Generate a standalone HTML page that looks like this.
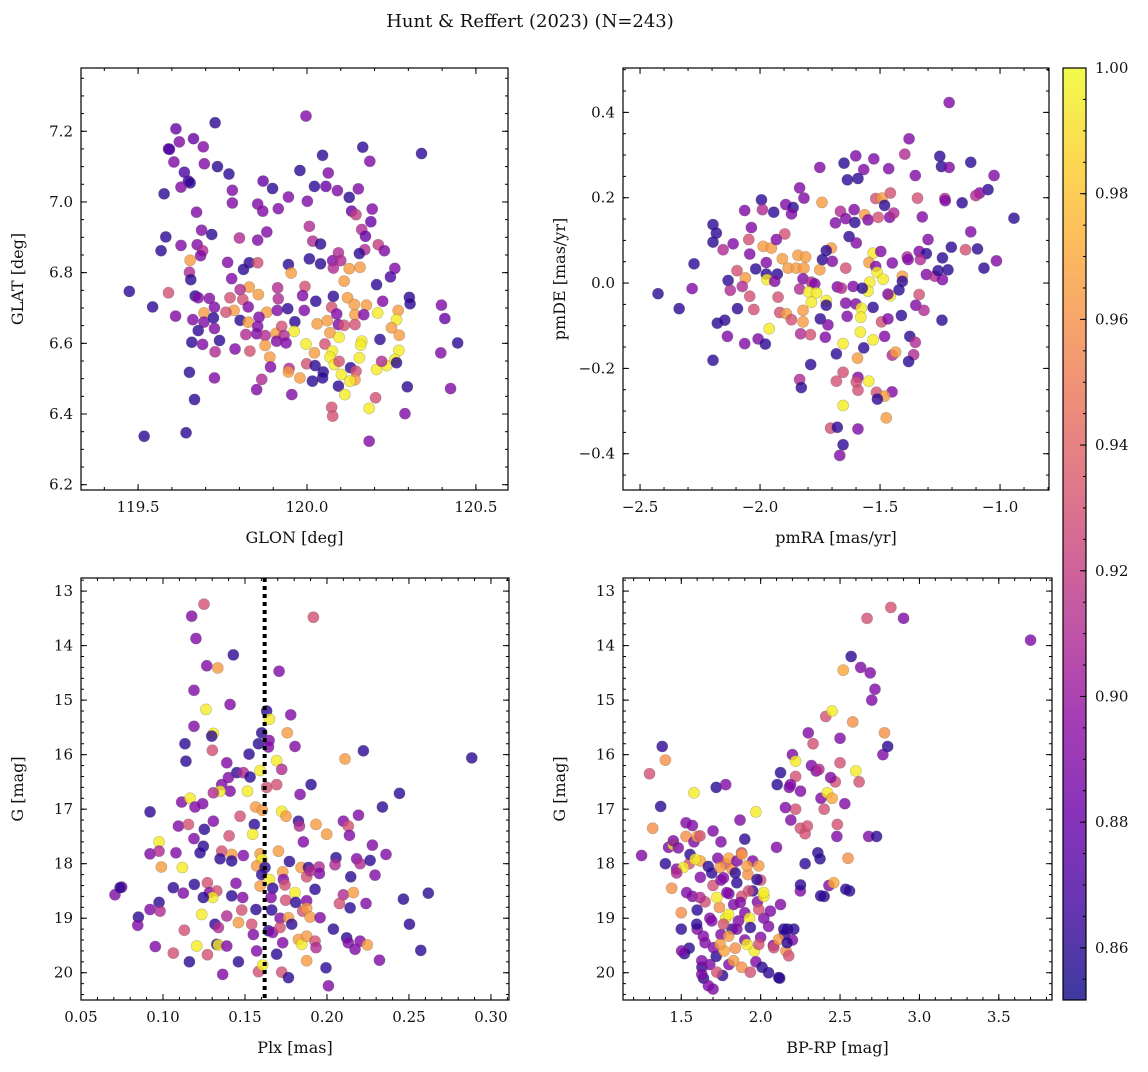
<!DOCTYPE html>
<html><head><meta charset="utf-8"><style>
body{margin:0;background:#fff}
svg text{font-family:"DejaVu Serif","Liberation Serif",serif;fill:#111}
</style></head><body>
<svg id="fig" width="1148" height="1067" viewBox="0 0 1148 1067" xmlns="http://www.w3.org/2000/svg">
<text x="530" y="27" text-anchor="middle" font-size="18">Hunt &amp; Reffert (2023) (N=243)</text>
</svg>
<script>
// Panel 1: GLON, GLAT, prob
const p1 = [[119.997,7.243,.89],[119.728,7.224,.86],[119.612,7.207,.88],[119.664,7.179,.88],[119.622,7.170,.89],[119.693,7.156,.89],[119.590,7.150,.88],[119.593,7.149,.87],[120.165,7.155,.86],[120.046,7.132,.86],[120.339,7.137,.86],[120.186,7.115,.89],[119.606,7.113,.89],[119.696,7.108,.89],[119.735,7.100,.86],[119.637,7.084,.87],[119.769,7.079,.86],[119.979,7.089,.86],[120.063,7.082,.89],[119.649,7.059,.87],[119.654,7.054,.86],[119.627,7.042,.89],[119.870,7.059,.88],[119.898,7.038,.86],[120.022,7.044,.86],[120.056,7.044,.88],[120.090,7.032,.89],[120.152,7.037,.89],[119.577,7.023,.86],[119.779,7.033,.89],[119.945,7.014,.89],[120.001,7.002,.89],[120.125,7.013,.86],[119.779,6.997,.89],[119.854,6.994,.89],[119.869,6.974,.89],[119.915,6.981,.89],[119.673,6.971,.89],[120.132,6.974,.88],[120.145,6.964,.92],[120.193,6.980,.89],[120.189,6.944,.88],[120.007,6.931,.91],[119.688,6.920,.89],[119.718,6.908,.86],[119.582,6.901,.86],[119.800,6.898,.91],[119.854,6.892,.89],[119.881,6.915,.89],[120.162,6.922,.91],[120.173,6.903,.88],[120.017,6.889,.91],[120.040,6.881,.86],[119.627,6.877,.89],[119.675,6.879,.89],[119.691,6.862,.91],[119.685,6.848,.89],[119.568,6.862,.86],[120.211,6.879,.92],[120.229,6.862,.89],[120.171,6.865,.91],[120.155,6.854,.86],[120.007,6.839,.86],[119.654,6.835,.965],[119.765,6.829,.89],[119.829,6.828,.86],[119.854,6.828,.93],[119.945,6.823,.86],[120.040,6.825,.86],[120.076,6.834,.89],[120.093,6.856,.91],[120.100,6.834,.91],[120.078,6.813,.91],[120.125,6.811,.965],[120.157,6.815,.965],[120.110,6.776,.965],[119.953,6.799,.965],[119.812,6.809,.86],[120.260,6.812,.89],[120.247,6.788,.87],[119.652,6.801,.91],[119.656,6.780,.86],[119.777,6.783,.89],[119.474,6.747,.86],[119.590,6.743,.93],[119.829,6.759,.965],[119.802,6.752,.91],[119.856,6.738,.965],[119.913,6.757,.91],[119.994,6.761,.93],[119.987,6.735,.89],[119.669,6.734,.86],[119.678,6.729,.89],[119.711,6.727,.89],[119.772,6.729,.93],[119.810,6.724,.93],[119.915,6.726,.91],[120.026,6.719,.86],[120.078,6.733,.86],[120.120,6.729,.965],[120.140,6.710,.965],[120.176,6.708,.965],[120.209,6.686,.995],[120.224,6.719,.89],[120.206,6.766,.86],[120.303,6.730,.86],[120.305,6.712,.86],[120.398,6.708,.89],[120.408,6.670,.88],[119.543,6.703,.86],[119.726,6.702,.89],[119.784,6.693,.965],[119.695,6.686,.965],[119.760,6.688,.93],[119.826,6.703,.89],[119.881,6.688,.965],[119.912,6.693,.89],[119.943,6.698,.86],[119.992,6.693,.89],[120.073,6.702,.93],[120.088,6.683,.89],[120.142,6.681,.965],[120.168,6.681,.89],[120.270,6.693,.965],[120.265,6.667,.995],[119.611,6.677,.89],[119.662,6.667,.89],[119.695,6.660,.89],[119.723,6.672,.86],[119.802,6.665,.86],[119.826,6.660,.965],[119.858,6.674,.89],[119.854,6.648,.89],[119.964,6.661,.86],[120.030,6.655,.965],[120.060,6.664,.965],[120.093,6.653,.89],[120.110,6.651,.93],[120.142,6.653,.93],[120.250,6.644,.965],[119.678,6.636,.86],[119.726,6.642,.89],[119.819,6.625,.91],[119.851,6.627,.89],[119.876,6.622,.91],[119.908,6.628,.965],[119.925,6.648,.93],[119.962,6.634,.995],[119.932,6.622,.91],[120.068,6.630,.965],[120.095,6.617,.995],[120.273,6.623,.965],[119.659,6.603,.86],[119.691,6.597,.89],[119.741,6.608,.86],[119.787,6.584,.89],[119.831,6.578,.93],[119.876,6.594,.965],[119.910,6.606,.89],[119.938,6.601,.89],[119.997,6.598,.995],[120.022,6.573,.965],[120.053,6.598,.93],[120.075,6.578,.995],[120.162,6.606,.995],[120.159,6.595,.995],[120.216,6.611,.86],[120.272,6.580,.995],[120.446,6.601,.86],[120.396,6.573,.89],[119.728,6.576,.91],[119.890,6.561,.965],[119.892,6.533,.89],[119.947,6.529,.91],[119.945,6.519,.965],[119.979,6.502,.965],[119.999,6.542,.93],[120.024,6.537,.86],[120.048,6.519,.86],[120.068,6.561,.995],[120.081,6.540,.995],[120.095,6.549,.93],[120.102,6.512,.995],[120.129,6.531,.86],[120.145,6.521,.93],[120.155,6.559,.995],[120.142,6.497,.965],[120.127,6.493,.995],[120.206,6.526,.995],[120.236,6.537,.995],[120.260,6.554,.995],[120.265,6.545,.86],[120.221,6.549,.91],[120.016,6.493,.86],[120.046,6.502,.86],[120.093,6.479,.86],[119.652,6.518,.86],[119.726,6.502,.89],[119.851,6.469,.89],[119.866,6.498,.91],[119.955,6.455,.89],[120.112,6.455,.995],[120.203,6.446,.93],[120.297,6.477,.86],[120.425,6.472,.89],[119.667,6.441,.86],[120.073,6.419,.93],[120.076,6.394,.93],[120.184,6.416,.995],[120.290,6.401,.89],[119.518,6.337,.86],[119.642,6.347,.86],[120.184,6.323,.89]];
// Panel 2: pmRA, pmDE, prob
const p2 = [[-1.212,0.423,.89],[-1.379,0.338,.89],[-1.397,0.302,.91],[-1.601,0.298,.89],[-1.526,0.291,.89],[-1.650,0.281,.86],[-1.251,0.297,.86],[-1.244,0.273,.86],[-1.212,0.271,.89],[-1.122,0.283,.86],[-1.751,0.271,.89],[-1.568,0.266,.89],[-1.464,0.268,.89],[-1.636,0.242,.86],[-1.592,0.245,.86],[-1.353,0.252,.89],[-1.025,0.252,.89],[-1.050,0.219,.86],[-1.085,0.211,.89],[-1.101,0.205,.91],[-1.835,0.223,.89],[-1.817,0.199,.89],[-1.994,0.195,.86],[-1.742,0.189,.965],[-1.518,0.198,.93],[-1.492,0.199,.965],[-1.457,0.211,.93],[-1.344,0.199,.93],[-1.230,0.198,.91],[-1.228,0.193,.89],[-1.158,0.188,.86],[-2.064,0.170,.89],[-1.990,0.172,.91],[-1.943,0.166,.86],[-1.893,0.184,.89],[-1.862,0.177,.86],[-1.869,0.162,.89],[-1.665,0.168,.91],[-1.608,0.172,.89],[-1.643,0.151,.89],[-1.564,0.160,.965],[-1.550,0.148,.89],[-1.508,0.154,.93],[-1.481,0.182,.86],[-1.460,0.154,.89],[-1.443,0.164,.91],[-1.324,0.155,.89],[-1.686,0.141,.89],[-1.605,0.142,.86],[-0.942,0.152,.86],[-2.196,0.137,.86],[-2.182,0.117,.86],[-2.036,0.130,.89],[-1.897,0.115,.93],[-1.122,0.120,.89],[-1.629,0.109,.86],[-1.599,0.094,.89],[-1.300,0.102,.89],[-2.196,0.096,.86],[-2.154,0.078,.91],[-2.112,0.092,.89],[-2.047,0.102,.93],[-1.987,0.086,.965],[-1.953,0.082,.965],[-1.932,0.102,.89],[-1.703,0.082,.965],[-1.724,0.076,.86],[-1.529,0.070,.995],[-1.497,0.074,.89],[-1.337,0.074,.89],[-1.307,0.069,.86],[-1.203,0.084,.86],[-1.144,0.078,.93],[-1.094,0.080,.86],[-2.275,0.045,.86],[-2.043,0.068,.89],[-1.974,0.048,.89],[-1.907,0.057,.965],[-1.842,0.065,.965],[-1.810,0.061,.965],[-1.883,0.035,.965],[-1.849,0.035,.965],[-1.817,0.035,.965],[-1.751,0.031,.965],[-1.740,0.055,.86],[-1.699,0.051,.89],[-1.643,0.035,.93],[-1.546,0.048,.965],[-1.518,0.039,.89],[-1.449,0.047,.89],[-1.387,0.061,.91],[-1.383,0.055,.89],[-1.332,0.055,.91],[-1.240,0.059,.86],[-1.015,0.052,.89],[-1.067,0.035,.86],[-2.096,0.029,.93],[-2.018,0.033,.86],[-1.974,0.021,.86],[-1.928,0.021,.86],[-2.061,0.012,.965],[-1.971,0.008,.995],[-1.939,0.004,.89],[-2.133,0.006,.86],[-1.821,0.010,.89],[-1.786,0.002,.91],[-1.772,-0.002,.89],[-1.512,0.025,.995],[-1.487,0.009,.995],[-1.543,0.002,.995],[-1.407,0.016,.965],[-1.407,0.004,.86],[-1.307,0.020,.89],[-1.272,0.016,.91],[-1.240,0.008,.89],[-1.217,0.031,.86],[-1.258,0.029,.86],[-2.124,-0.017,.91],[-2.074,-0.008,.91],[-2.043,-0.031,.93],[-1.835,-0.014,.91],[-1.797,-0.021,.995],[-1.765,-0.023,.995],[-1.786,-0.045,.995],[-1.724,-0.041,.995],[-1.678,-0.009,.89],[-1.661,-0.012,.91],[-1.612,-0.008,.89],[-1.550,-0.019,.995],[-1.574,-0.012,.86],[-1.457,-0.030,.995],[-1.467,-0.026,.89],[-1.421,-0.016,.86],[-1.337,-0.027,.93],[-1.925,-0.033,.93],[-2.283,-0.013,.89],[-2.425,-0.025,.86],[-2.337,-0.060,.86],[-2.094,-0.060,.86],[-2.026,-0.062,.93],[-1.918,-0.069,.93],[-1.890,-0.072,.965],[-1.869,-0.086,.93],[-1.821,-0.064,.965],[-1.821,-0.091,.965],[-1.749,-0.084,.86],[-1.724,-0.052,.86],[-1.717,-0.098,.89],[-1.643,-0.047,.89],[-1.637,-0.078,.89],[-1.601,-0.049,.89],[-1.578,-0.059,.995],[-1.580,-0.080,.995],[-1.529,-0.057,.86],[-1.494,-0.091,.93],[-1.467,-0.084,.89],[-1.411,-0.076,.86],[-1.351,-0.052,.89],[-1.317,-0.064,.91],[-1.242,-0.087,.86],[-2.178,-0.094,.86],[-2.147,-0.087,.86],[-1.962,-0.107,.995],[-2.136,-0.125,.89],[-2.064,-0.142,.89],[-2.008,-0.131,.89],[-1.978,-0.143,.86],[-1.831,-0.119,.91],[-1.790,-0.121,.93],[-1.728,-0.127,.89],[-1.582,-0.115,.995],[-1.529,-0.133,.995],[-1.568,-0.152,.86],[-1.481,-0.125,.89],[-1.376,-0.125,.86],[-1.353,-0.139,.91],[-1.654,-0.142,.995],[-1.682,-0.166,.86],[-1.594,-0.176,.965],[-1.449,-0.169,.91],[-1.435,-0.162,.965],[-1.360,-0.168,.91],[-1.381,-0.184,.86],[-2.196,-0.181,.86],[-1.789,-0.191,.86],[-1.654,-0.209,.93],[-1.682,-0.230,.93],[-1.835,-0.226,.91],[-1.828,-0.245,.86],[-1.592,-0.221,.89],[-1.599,-0.232,.93],[-1.547,-0.230,.995],[-1.592,-0.251,.93],[-1.515,-0.256,.93],[-1.450,-0.255,.89],[-1.481,-0.265,.965],[-1.511,-0.272,.86],[-1.654,-0.287,.995],[-1.474,-0.316,.965],[-1.706,-0.340,.93],[-1.678,-0.338,.86],[-1.592,-0.342,.89],[-1.654,-0.379,.86],[-1.668,-0.404,.89]];
// Panel 3: Plx, G, prob
const p3 = [[.125,13.24,.93],[.1175,13.46,.89],[.1917,13.48,.93],[.1201,13.87,.89],[.1429,14.17,.86],[.1267,14.37,.89],[.1334,14.41,.965],[.1708,14.47,.89],[.1189,14.82,.89],[.1409,15.08,.89],[.1262,15.17,.995],[.1632,15.20,.86],[.1779,15.27,.89],[.1649,15.35,.995],[.1189,15.48,.89],[.1307,15.61,.995],[.1297,15.66,.86],[.1602,15.60,.86],[.1758,15.60,.965],[.1647,15.74,.89],[.1134,15.80,.86],[.1582,15.80,.86],[.1805,15.85,.89],[.1301,15.92,.93],[.1525,15.99,.86],[.1643,15.86,.89],[.2222,15.93,.86],[.211,16.08,.965],[.2883,16.06,.86],[.114,16.12,.86],[.1693,16.11,.995],[.1389,16.15,.89],[.1724,16.27,.91],[.1592,16.29,.995],[.145,16.33,.86],[.149,16.33,.91],[.1531,16.41,.86],[.1399,16.42,.89],[.1358,16.55,.89],[.1409,16.67,.89],[.1348,16.67,.995],[.1515,16.67,.995],[.1307,16.70,.91],[.1632,16.60,.93],[.1693,16.55,.93],[.1903,16.55,.86],[.1836,16.73,.89],[.2442,16.71,.86],[.1114,16.87,.89],[.1165,16.80,.995],[.1242,16.90,.89],[.1195,16.96,.89],[.0921,17.05,.86],[.1565,16.96,.965],[.1606,17.02,.965],[.1724,17.04,.995],[.175,17.13,.965],[.2338,16.96,.86],[.2192,17.11,.89],[.147,17.13,.93],[.1307,17.22,.89],[.1094,17.31,.89],[.1155,17.28,.93],[.1557,17.28,.86],[.1826,17.22,.86],[.1832,17.31,.91],[.1933,17.28,.965],[.21,17.22,.89],[.213,17.31,.93],[.1252,17.37,.86],[.1403,17.49,.93],[.1547,17.46,.995],[.1189,17.54,.89],[.1998,17.46,.965],[.2137,17.48,.89],[.1856,17.60,.89],[.0976,17.60,.995],[.1246,17.68,.86],[.1226,17.80,.86],[.0921,17.82,.89],[.0976,17.77,.91],[.1079,17.80,.89],[.1358,17.77,.93],[.1419,17.83,.965],[.149,17.85,.89],[.1348,17.91,.86],[.1419,17.95,.86],[.1704,17.77,.965],[.1592,17.82,.965],[.1602,17.92,.995],[.1771,17.96,.86],[.2055,17.89,.86],[.2049,18.02,.91],[.2181,17.91,.89],[.2202,18.00,.91],[.2263,17.94,.86],[.2277,17.66,.89],[.236,17.83,.89],[.099,18.06,.965],[.1118,18.07,.995],[.1571,18.04,.965],[.1622,18.07,.86],[.1842,18.07,.965],[.1887,18.07,.86],[.1952,18.06,.91],[.1954,18.18,.89],[.173,18.15,.965],[.1602,18.20,.86],[.1649,18.29,.995],[.1734,18.29,.89],[.1744,18.39,.93],[.1876,18.24,.93],[.1897,18.13,.91],[.2145,18.24,.86],[.2293,18.21,.89],[.0748,18.43,.89],[.0707,18.57,.89],[.0738,18.44,.86],[.1063,18.44,.86],[.1124,18.54,.89],[.1191,18.38,.86],[.1271,18.35,.93],[.1283,18.53,.89],[.1328,18.50,.93],[.1303,18.62,.995],[.1246,18.62,.86],[.1419,18.59,.86],[.1445,18.36,.89],[.1486,18.62,.89],[.1592,18.41,.965],[.1669,18.45,.86],[.1659,18.62,.89],[.1748,18.67,.93],[.1805,18.53,.995],[.1809,18.71,.86],[.1876,18.68,.89],[.1927,18.47,.86],[.21,18.57,.91],[.2076,18.73,.93],[.2161,18.53,.965],[.2141,18.81,.86],[.2238,18.73,.89],[.2466,18.65,.86],[.2618,18.54,.86],[.0976,18.71,.86],[.0921,18.84,.89],[.0982,18.87,.91],[.085,18.98,.86],[.0846,19.13,.89],[.1236,18.93,.995],[.1389,18.96,.91],[.148,18.85,.93],[.1567,18.84,.86],[.1663,18.85,.86],[.1714,19.00,.89],[.1765,18.99,.965],[.1852,18.87,.93],[.1876,18.82,.965],[.1897,18.98,.965],[.1958,18.99,.89],[.1785,19.11,.86],[.113,19.22,.93],[.1317,19.11,.86],[.1338,19.17,.91],[.146,19.08,.965],[.1541,19.11,.93],[.1551,19.30,.89],[.1643,19.23,.86],[.1669,19.26,.89],[.1714,19.17,.93],[.173,19.45,.89],[.1826,19.39,.965],[.1846,19.48,.995],[.1876,19.33,.965],[.1927,19.42,.93],[.1933,19.54,.91],[.2039,19.20,.86],[.212,19.36,.86],[.213,19.45,.89],[.2171,19.57,.89],[.2202,19.42,.89],[.2246,19.49,.965],[.232,19.77,.89],[.2503,19.11,.86],[.2572,19.59,.86],[.0953,19.52,.89],[.1063,19.64,.93],[.1161,19.80,.86],[.1206,19.51,.995],[.1271,19.67,.93],[.1328,19.48,.86],[.1338,19.49,.995],[.1389,19.51,.89],[.146,19.80,.86],[.1571,19.60,.89],[.1582,19.98,.93],[.1608,19.86,.995],[.1693,19.66,.86],[.1724,19.99,.93],[.1765,20.09,.86],[.1876,19.78,.965],[.1994,19.91,.86],[.2009,20.24,.89],[.1364,20.03,.89]];
// Panel 4: BP-RP, G, prob
const p4 = [[1.25,17.85,.89],[1.3,16.35,.93],[1.32,17.35,.96],[1.37,16.95,.86],[1.38,15.85,.86],[1.4,16.1,.96],[1.4,18.0,.86],[1.42,17.7,.89],[1.44,18.45,.96],[1.45,17.65,.995],[1.47,18.1,.89],[1.5,18.9,.96],[1.5,19.2,.86],[1.52,19.65,.86],[1.53,17.25,.89],[1.53,17.5,.96],[1.55,18.0,.93],[1.55,19.55,.86],[1.57,17.3,.89],[1.57,18.6,.89],[1.58,16.7,.995],[1.58,17.6,.89],[1.6,17.5,.97],[1.6,18.85,.86],[1.6,19.2,.89],[1.62,17.95,.97],[1.62,18.25,.89],[1.63,19.9,.86],[1.64,20.1,.86],[1.65,18.7,.93],[1.65,19.45,.89],[1.67,18.05,.86],[1.68,19.0,.89],[1.68,19.85,.89],[1.7,17.4,.89],[1.7,18.4,.93],[1.7,20.3,.89],[1.72,16.6,.86],[1.72,19.7,.86],[1.73,17.9,.89],[1.74,18.8,.96],[1.75,17.6,.89],[1.75,18.3,.89],[1.75,19.3,.89],[1.76,20.05,.86],[1.77,19.6,.97],[1.78,18.0,.93],[1.78,19.0,.995],[1.78,16.55,.89],[1.8,18.55,.89],[1.8,17.9,.97],[1.8,19.85,.89],[1.82,19.2,.86],[1.82,18.1,.96],[1.83,18.75,.89],[1.84,19.55,.96],[1.85,17.95,.89],[1.85,18.35,.86],[1.86,19.05,.89],[1.87,17.2,.89],[1.88,19.9,.96],[1.88,18.6,.93],[1.9,17.55,.86],[1.9,19.4,.89],[1.9,18.9,.89],[1.92,18.2,.96],[1.93,19.0,.995],[1.95,18.5,.86],[1.96,19.6,.995],[1.97,17.05,.995],[1.97,19.8,.89],[1.98,18.7,.89],[2.0,19.35,.89],[2.0,18.3,.93],[2.02,18.6,.995],[2.02,19.0,.89],[2.05,20.0,.86],[2.05,19.15,.89],[2.08,19.5,.89],[2.1,17.7,.89],[2.12,20.1,.86],[2.15,19.3,.86],[2.16,19.6,.96],[2.17,19.2,.86],[2.18,16.6,.89],[2.19,17.2,.89],[2.2,19.4,.89],[2.2,16.0,.89],[2.22,16.4,.93],[2.22,17.0,.93],[2.25,17.35,.93],[2.25,18.5,.89],[2.28,18.0,.86],[2.28,17.45,.93],[2.3,15.6,.89],[2.32,16.2,.89],[2.33,15.8,.93],[2.35,16.3,.89],[2.36,17.8,.86],[2.38,16.8,.89],[2.4,17.0,.93],[2.4,18.6,.86],[2.41,15.3,.93],[2.42,16.7,.995],[2.43,18.4,.89],[2.45,15.2,.995],[2.45,16.8,.97],[2.46,18.35,.97],[2.47,16.5,.93],[2.48,17.5,.89],[2.5,16.15,.93],[2.5,15.7,.89],[2.52,14.45,.97],[2.53,16.9,.89],[2.55,17.9,.96],[2.56,18.5,.86],[2.57,14.2,.86],[2.58,15.4,.96],[2.6,16.3,.995],[2.62,16.5,.93],[2.63,14.4,.89],[2.67,13.5,.93],[2.68,17.5,.89],[2.69,14.5,.89],[2.7,15.0,.89],[2.72,14.8,.89],[2.73,17.5,.86],[2.77,16.0,.89],[2.78,15.6,.96],[2.8,15.85,.86],[2.82,13.3,.93],[2.9,13.5,.89],[3.7,13.9,.89],[1.95,17.95,.89],[1.88,17.8,.93],
[1.450,17.58,.89],[1.481,17.71,.89],[1.555,17.83,.86],[1.618,17.49,.93],[1.513,18.07,.995],[1.471,18.17,.91],[1.587,17.92,.995],[1.692,18.17,.86],[1.745,18.07,.965],[1.766,18.26,.89],[1.840,18.17,.86],[1.882,17.83,.965],[1.914,18.04,.965],[1.988,18.04,.965],[1.977,18.29,.86],[1.534,18.53,.89],[1.618,18.62,.91],[1.724,18.62,.995],[1.787,18.53,.89],[1.872,18.71,.89],[1.924,18.50,.93],[2.019,18.53,.995],[2.061,18.87,.89],[2.125,18.75,.89],[1.597,19.11,.86],[1.692,19.05,.89],[1.766,19.11,.93],[1.798,18.93,.995],[1.850,19.20,.89],[1.935,19.17,.86],[1.988,18.84,.93],[1.639,19.33,.89],[1.703,19.54,.89],[1.745,19.48,.965],[1.798,19.33,.965],[1.914,19.48,.995],[1.988,19.48,.93],[2.083,19.54,.93],[2.146,19.20,.86],[2.209,19.20,.86],[2.114,19.39,.965],[2.177,19.69,.93],[1.629,19.78,.89],[1.724,19.99,.93],[1.829,19.78,.965],[1.935,19.99,.93],[2.009,19.90,.86],[2.114,20.09,.86],[1.671,20.24,.89],[1.629,20.03,.89],[1.502,19.60,.89],[2.167,19.45,.86],
[2.125,16.33,.86],[2.104,16.55,.86],[2.188,16.55,.89],[2.220,16.12,.995],[2.367,16.27,.91],[2.441,16.42,.89],[2.251,16.67,.89],[2.156,16.97,.89],[2.294,17.31,.93],[2.483,17.28,.93],[2.374,17.91,.86],[2.251,18.39,.86],[2.378,18.59,.86],[2.536,18.47,.86]];
const plxLine = 0.162;
const cbTicks = [0.86,0.88,0.90,0.92,0.94,0.96,0.98,1.00];

const NS='http://www.w3.org/2000/svg';
const svg=document.getElementById('fig');
function mk(tag,attrs,parent){const e=document.createElementNS(NS,tag);for(const k in attrs)e.setAttribute(k,attrs[k]);(parent||svg).appendChild(e);return e;}
const stops=[[0,[13,8,135]],[.1,[65,4,157]],[.2,[106,0,168]],[.3,[143,13,164]],[.4,[177,42,144]],[.5,[204,71,120]],[.6,[225,100,98]],[.7,[242,132,75]],[.8,[252,166,54]],[.9,[252,206,37]],[1,[240,249,33]]];
const CMIN=0.8517,CMAX=1.0;
function plasma(t){t=Math.max(0,Math.min(1,t));for(let i=1;i<stops.length;i++){if(t<=stops[i][0]){const a=stops[i-1],b=stops[i],f=(t-a[0])/(b[0]-a[0]);return 'rgb('+a[1].map((v,j)=>Math.round(v+(b[1][j]-v)*f)).join(',')+')';}}return 'rgb(240,249,33)';}
function col(p){return plasma((p-CMIN)/(CMAX-CMIN));}

function panel(cfg){
  const {name,L,T,R,B,x0,x1,y0,y1,xMaj,yMaj,xMin,yMin,xfmt,yfmt,xlabel,ylabel,data}=cfg;
  const g=mk('g',{});
  
  
  const sx=v=>L+(v-x0)/(x1-x0)*(R-L), sy=v=>T+(v-y0)/(y1-y0)*(B-T);
  const eps=1e-9;
  function ticks(step){const a=[];const lo=Math.min(x0,x1),hi=Math.max(x0,x1);for(let v=Math.ceil(lo/step-eps)*step;v<=hi+eps;v+=step)a.push(v);return a;}
  function yticks(step){const a=[];const lo=Math.min(y0,y1),hi=Math.max(y0,y1);for(let v=Math.ceil(lo/step-eps)*step;v<=hi+eps;v+=step)a.push(v);return a;}
  const tk=mk('g',{stroke:'#000','stroke-width':1},g);
  
  
  ticks(xMin).forEach(v=>{const x=sx(v);mk('line',{x1:x,x2:x,y1:B,y2:B-3},tk);mk('line',{x1:x,x2:x,y1:T,y2:T+3},tk);});
  yticks(yMin).forEach(v=>{const y=sy(v);mk('line',{x1:L,x2:L+3,y1:y,y2:y},tk);mk('line',{x1:R,x2:R-3,y1:y,y2:y},tk);});
  xMaj.forEach(v=>{const x=sx(v);mk('line',{x1:x,x2:x,y1:B,y2:B-6},tk);mk('line',{x1:x,x2:x,y1:T,y2:T+6},tk);
    const t=mk('text',{x:x,y:B+22,'text-anchor':'middle','font-size':15},g);t.textContent=xfmt(v);
    
    });
  yMaj.forEach(v=>{const y=sy(v);mk('line',{x1:L,x2:L+6,y1:y,y2:y},tk);mk('line',{x1:R,x2:R-6,y1:y,y2:y},tk);
    const t=mk('text',{x:L-8,y:y+5,'text-anchor':'end','font-size':15},g);t.textContent=yfmt(v);
    
    });
  const pts=mk('g',{},g);
  
  
  data.forEach(d=>{const c=mk('circle',{cx:sx(d[0]),cy:sy(d[1]),r:5.6,fill:col(d[2]),'fill-opacity':0.8,stroke:'#555','stroke-opacity':0.35,'stroke-width':0.6},pts);
    
    });
  if(cfg.vline!==undefined){const x=sx(cfg.vline);const l=mk('line',{x1:x,x2:x,y1:T,y2:B,stroke:'#000','stroke-width':4,'stroke-dasharray':'4,4'},g);
    
    }
  const fr=mk('rect',{x:L,y:T,width:R-L,height:B-T,fill:'none',stroke:'#000','stroke-width':1.2},g);
  
  
  const xl=mk('text',{x:(L+R)/2,y:B+53,'text-anchor':'middle','font-size':16},g);xl.textContent=xlabel;
  
  
  const yx=L-58,yy=(T+B)/2;
  const yl=mk('text',{x:yx,y:yy,'text-anchor':'middle','font-size':16,transform:`rotate(-90 ${yx} ${yy})`},g);yl.textContent=ylabel;
  
  
}
const f1=v=>v.toFixed(1), f2=v=>v.toFixed(2), f0=v=>v.toFixed(0), fm=v=>(v<-1e-9?'\u2212':'')+Math.abs(v).toFixed(1);
panel({name:'glon-glat-panel',L:81,T:68,R:508,B:490,x0:119.331,x1:120.595,y0:7.379,y1:6.185,xMaj:[119.5,120,120.5],yMaj:[6.2,6.4,6.6,6.8,7.0,7.2],xMin:0.1,yMin:0.05,xfmt:f1,yfmt:f1,xlabel:'GLON [deg]',ylabel:'GLAT [deg]',data:p1});
panel({name:'proper-motion-panel',L:623,T:68,R:1049,B:490,x0:-2.571,x1:-0.796,y0:0.504,y1:-0.485,xMaj:[-2.5,-2,-1.5,-1],yMaj:[-0.4,-0.2,0,0.2,0.4],xMin:0.1,yMin:0.05,xfmt:fm,yfmt:fm,xlabel:'pmRA [mas/yr]',ylabel:'pmDE [mas/yr]',data:p2});
panel({name:'plx-g-panel',L:81,T:578,R:509,B:1000,x0:0.05,x1:0.311,y0:12.76,y1:20.5,xMaj:[0.05,0.1,0.15,0.2,0.25,0.3],yMaj:[13,14,15,16,17,18,19,20],xMin:0.01,yMin:0.2,xfmt:f2,yfmt:f0,xlabel:'Plx [mas]',ylabel:'G [mag]',data:p3,vline:plxLine});
panel({name:'cmd-panel',L:623,T:578,R:1052,B:1000,x0:1.133,x1:3.835,y0:12.76,y1:20.5,xMaj:[1.5,2,2.5,3,3.5],yMaj:[13,14,15,16,17,18,19,20],xMin:0.1,yMin:0.2,xfmt:f1,yfmt:f0,xlabel:'BP-RP [mag]',ylabel:'G [mag]',data:p4});

// colorbar
const cb=mk('g',{});


const CL=1063,CR=1086,CT=68,CB=1000;
const defs=mk('defs',{},svg);
const lg=mk('linearGradient',{id:'pg',x1:0,y1:1,x2:0,y2:0},defs);
for(let i=0;i<=20;i++){mk('stop',{offset:i/20,'stop-color':plasma(i/20),'stop-opacity':0.8},lg);}
const cr=mk('rect',{x:CL,y:CT,width:CR-CL,height:CB-CT,fill:'url(#pg)',stroke:'#000','stroke-width':1.2},cb);


const cy=v=>CB-(v-CMIN)/(CMAX-CMIN)*(CB-CT);
for(let v=0.855;v<=1.0001;v+=0.005){const y=cy(v);mk('line',{x1:CR,x2:CR-3,y1:y,y2:y,stroke:'#000'},cb);}
cbTicks.forEach(v=>{const y=cy(v);mk('line',{x1:CR,x2:CR-6,y1:y,y2:y,stroke:'#000'},cb);
  const t=mk('text',{x:CR+9,y:y+5,'font-size':15},cb);t.textContent=v.toFixed(2);
  
  });
</script>
</body></html>
